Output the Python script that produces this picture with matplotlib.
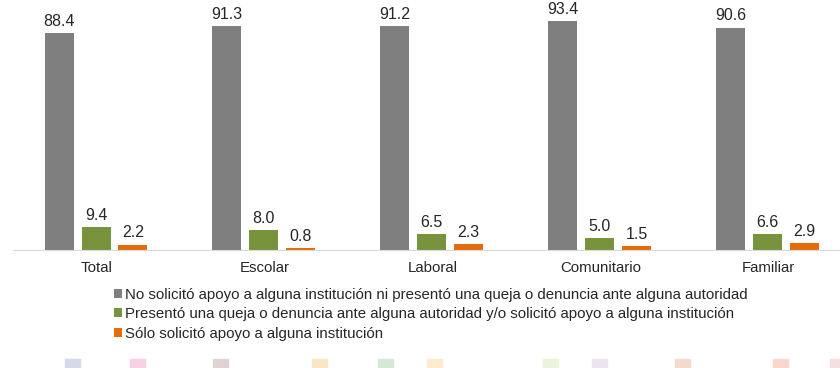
import numpy as np
import matplotlib.pyplot as plt
from matplotlib.patches import Rectangle

plt.rcParams['font.family'] = ['Liberation Sans', 'DejaVu Sans']

categories = ['Total', 'Escolar', 'Laboral', 'Comunitario', 'Familiar']
no_solicito = [88.4, 91.3, 91.2, 93.4, 90.6]
presento = [9.4, 8.0, 6.5, 5.0, 6.6]
solo_solicito = [2.2, 0.8, 2.3, 1.5, 2.9]

series_labels = [
    'No solicitó apoyo a alguna institución ni presentó una queja o denuncia ante alguna autoridad',
    'Presentó una queja o denuncia ante alguna autoridad y/o solicitó apoyo a alguna institución',
    'Sólo solicitó apoyo a alguna institución',
]
colors = ['#7f7f7f', '#77933c', '#e46c0a']

fig = plt.figure(figsize=(8.4, 3.68), dpi=100)
ax = fig.add_axes([13 / 840, 118 / 368, 839 / 840, 245.5 / 368])

x = np.arange(len(categories))
width = 0.173
offsets = [-0.225, -0.005, 0.215]
handles = []
for vals, off, col, lab in zip([no_solicito, presento, solo_solicito], offsets, colors, series_labels):
    bars = ax.bar(x + off, vals, width, color=col, label=lab)
    handles.append(bars)
    for b, v in zip(bars, vals):
        ax.annotate(f'{v:.1f}', (b.get_x() + b.get_width() / 2, v), xytext=(0, 3),
                    textcoords='offset points', ha='center', va='bottom',
                    fontsize=11.5, color='#262626')

ax.set_xlim(-0.5, 4.5)
ax.set_ylim(0, 100)
ax.set_xticks(x)
ax.set_xticklabels(categories, fontsize=10.8, color='#262626')
ax.tick_params(axis='x', length=0, pad=8)
ax.set_yticks([])
for side in ['top', 'left', 'right']:
    ax.spines[side].set_visible(False)
ax.spines['bottom'].set_color('#d9d9d9')

fig.legend(handles=handles, labels=series_labels, loc='upper left',
           bbox_to_anchor=(100 / 840, 1 - 274 / 368), frameon=False,
           fontsize=10.8, handlelength=0.55, handleheight=0.55,
           handletextpad=0.2, labelspacing=0.38, labelcolor='#262626')

# faint decorative squares along the bottom edge
footer_x = [65, 130, 213, 312, 378, 427, 543, 592, 675, 773, 830]
footer_c = ['#d6d9ea', '#f6d0e5', '#e0d3d3', '#fbe5c8', '#d3e9d3', '#feecd0',
            '#ecf3dc', '#eee3f0', '#f1dccc', '#fbd6cd', '#f3e0e0']
for fx, fc in zip(footer_x, footer_c):
    fig.patches.append(Rectangle((fx / 840, 0), 15 / 840, 9 / 368,
                                 transform=fig.transFigure, color=fc, zorder=0))

fig.savefig('out.png', dpi=100)
